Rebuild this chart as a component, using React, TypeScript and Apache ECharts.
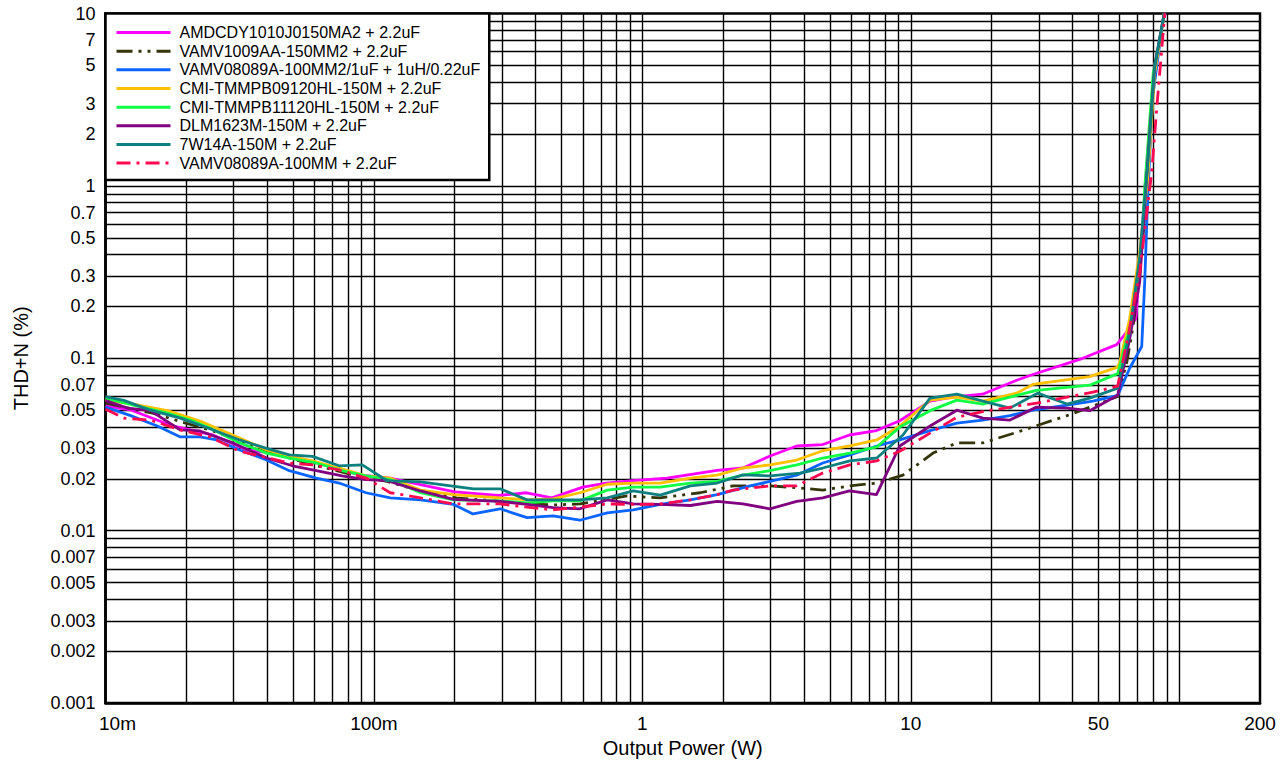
import React, { useEffect, useRef } from "react";
import * as echarts from "echarts";

const FONT = '"Liberation Sans", Arial, Helvetica, sans-serif';

const seriesNames = [
  "AMDCDY1010J0150MA2 + 2.2uF",
  "VAMV1009AA-150MM2 + 2.2uF",
  "VAMV08089A-100MM2/1uF + 1uH/0.22uF",
  "CMI-TMMPB09120HL-150M + 2.2uF",
  "CMI-TMMPB11120HL-150M + 2.2uF",
  "DLM1623M-150M + 2.2uF",
  "7W14A-150M + 2.2uF",
  "VAMV08089A-100MM + 2.2uF",
];
const seriesColors = ["#ff00ff", "#35350a", "#0a64ff", "#ffc000", "#11ff44", "#800080", "#0f8080", "#ff0a50"];

// [Output power (W), THD+N (%)]
const amdcdy = [[0.01,0.053],[0.0125,0.050],[0.0178,0.0405],[0.025,0.036],[0.0336,0.0294],[0.0472,0.0275],[0.06,0.025],[0.075,0.0225],[0.09,0.021],[0.115,0.0202],[0.149,0.0185],[0.2,0.0168],[0.29,0.016],[0.37,0.0166],[0.46,0.0155],[0.60,0.0179],[0.735,0.0189],[0.92,0.0195],[1.235,0.0202],[1.9,0.0224],[2.37,0.0231],[2.99,0.0271],[3.76,0.031],[4.7,0.0316],[5.91,0.0359],[7.45,0.0381],[9.1,0.0434],[11.8,0.0564],[14.3,0.0595],[18.5,0.0619],[24.8,0.0746],[28.5,0.0805],[43.7,0.1],[58.5,0.12],[64.5,0.145],[69,0.17],[73,0.6],[77.5,2.1],[81,5.0],[88,10]];
const vamv1009 = [[0.01,0.055],[0.0125,0.051],[0.015,0.048],[0.019,0.043],[0.025,0.038],[0.032,0.033],[0.04,0.029],[0.05,0.026],[0.06,0.024],[0.075,0.022],[0.09,0.0205],[0.112,0.0193],[0.149,0.017],[0.203,0.0155],[0.295,0.0148],[0.375,0.0143],[0.465,0.0141],[0.585,0.0143],[0.877,0.0159],[1.165,0.0155],[1.64,0.0166],[2.18,0.0182],[2.99,0.0182],[3.87,0.0177],[4.7,0.0172],[5.93,0.0182],[7.47,0.0189],[9.35,0.0210],[10.8,0.0247],[12.1,0.0282],[14.85,0.0323],[18.55,0.0323],[24.8,0.0372],[28.5,0.040],[38.2,0.0465],[46.4,0.052],[59,0.060],[63.8,0.095],[67.1,0.149],[70,0.24],[74,0.6],[77,1.8],[81,4.5],[88,10]];
const vamv08089mm2 = [[0.01,0.0521],[0.0124,0.0465],[0.0156,0.0405],[0.019,0.0350],[0.0225,0.0350],[0.026,0.0336],[0.0316,0.0294],[0.0398,0.0257],[0.0484,0.0223],[0.061,0.0202],[0.0742,0.0189],[0.0935,0.0166],[0.115,0.0155],[0.149,0.0151],[0.198,0.0142],[0.234,0.0125],[0.295,0.0134],[0.372,0.0119],[0.465,0.0122],[0.585,0.0115],[0.74,0.0127],[0.925,0.0132],[1.165,0.0142],[1.51,0.0151],[1.9,0.0162],[2.52,0.0182],[2.99,0.0193],[3.76,0.0210],[4.7,0.0247],[5.93,0.0275],[7.47,0.0310],[9.1,0.0336],[11.8,0.0381],[14.85,0.0421],[18.55,0.0438],[23.4,0.0465],[28.5,0.0500],[38.2,0.0535],[47.7,0.0564],[59,0.061],[65.4,0.0875],[72.5,0.117],[74.4,0.279],[76.3,0.84],[79.5,3.2],[87,9.2],[89,10]];
const cmi09120 = [[0.01,0.0572],[0.0127,0.0543],[0.017,0.0497],[0.0225,0.0432],[0.0316,0.0345],[0.0398,0.0294],[0.0484,0.0271],[0.059,0.0254],[0.0742,0.0231],[0.0935,0.0208],[0.115,0.0202],[0.149,0.0172],[0.198,0.0162],[0.295,0.0155],[0.372,0.0151],[0.465,0.0153],[0.585,0.0166],[0.74,0.0186],[0.925,0.0189],[1.165,0.0189],[1.51,0.0202],[1.9,0.0210],[2.37,0.0231],[2.99,0.0241],[3.76,0.0257],[4.7,0.0291],[5.93,0.0310],[7.47,0.0336],[9.1,0.0405],[11.8,0.0572],[14.85,0.0595],[18.55,0.0564],[24.8,0.0628],[28.5,0.0705],[46.4,0.0783],[59,0.0889],[60.1,0.0954],[65.4,0.17],[71.3,0.42],[76.3,1.1],[81,4.5],[88,10]];
const cmi11120 = [[0.01,0.0587],[0.0127,0.0535],[0.017,0.0481],[0.0207,0.0438],[0.0245,0.0394],[0.0316,0.0323],[0.0398,0.0282],[0.0484,0.0264],[0.061,0.0247],[0.0761,0.0223],[0.0935,0.0208],[0.115,0.0198],[0.149,0.0166],[0.198,0.0151],[0.295,0.0149],[0.372,0.0145],[0.465,0.0149],[0.585,0.0149],[0.74,0.0172],[0.925,0.0179],[1.165,0.0179],[1.51,0.0189],[1.9,0.0193],[2.37,0.0210],[2.99,0.0223],[3.76,0.0241],[4.7,0.0264],[5.93,0.0282],[7.47,0.0306],[9.1,0.0399],[11.8,0.0497],[14.85,0.0572],[18.55,0.0543],[24.8,0.0610],[29.4,0.0652],[46.4,0.0698],[59,0.0815],[60.1,0.0907],[65.4,0.15],[71.3,0.3],[74.5,1.0],[80,4.5],[88,10]];
const dlm1623 = [[0.01,0.0568],[0.0121,0.0514],[0.0147,0.0497],[0.019,0.0384],[0.0225,0.0379],[0.0298,0.0323],[0.0398,0.0264],[0.0497,0.0238],[0.061,0.0223],[0.0761,0.0208],[0.0935,0.0198],[0.112,0.0195],[0.149,0.0170],[0.198,0.0152],[0.295,0.0148],[0.372,0.0142],[0.465,0.0136],[0.585,0.0134],[0.74,0.0151],[0.925,0.0143],[1.165,0.0142],[1.51,0.0140],[1.9,0.0148],[2.37,0.0143],[2.99,0.0134],[3.76,0.0148],[4.7,0.0155],[5.91,0.0170],[7.45,0.0162],[9.1,0.0310],[11.8,0.0405],[14.85,0.0500],[18.55,0.0450],[23.4,0.0438],[29.4,0.0521],[38.2,0.0514],[46.4,0.0497],[59,0.061],[65.4,0.13],[71.3,0.28],[74.5,0.8],[77.6,2.0],[81,4.9],[88,10]];
const w7w14a = [[0.01,0.060],[0.0117,0.057],[0.0147,0.050],[0.019,0.045],[0.0245,0.039],[0.0316,0.0336],[0.0398,0.030],[0.0484,0.0275],[0.059,0.027],[0.0742,0.0238],[0.0905,0.0241],[0.112,0.0195],[0.149,0.0192],[0.235,0.0175],[0.295,0.0175],[0.372,0.0151],[0.465,0.0151],[0.585,0.0151],[0.74,0.0155],[0.925,0.0170],[1.165,0.0161],[1.51,0.0182],[1.9,0.0189],[2.37,0.0211],[2.99,0.0208],[3.87,0.0216],[4.7,0.0231],[5.93,0.0254],[7.47,0.0264],[9.35,0.0359],[11.8,0.0587],[14.85,0.0619],[18.55,0.0564],[23.4,0.0514],[29.7,0.0628],[38.2,0.0543],[46.4,0.0587],[59,0.0671],[65.4,0.143],[71.3,0.39],[76.3,1.31],[81,4.9],[88,10]];
const vamv08089mm = [[0.01,0.0507],[0.0117,0.0450],[0.0147,0.0438],[0.019,0.0384],[0.0245,0.0350],[0.0316,0.0289],[0.0484,0.0247],[0.059,0.0241],[0.0742,0.0225],[0.0935,0.0202],[0.115,0.0166],[0.149,0.0155],[0.198,0.0143],[0.295,0.0143],[0.372,0.0137],[0.465,0.0132],[0.585,0.0137],[0.74,0.0143],[0.925,0.0142],[1.165,0.0143],[1.51,0.0151],[1.9,0.0162],[2.18,0.0172],[2.99,0.0182],[3.76,0.0182],[4.7,0.0216],[5.93,0.0241],[7.47,0.0254],[9.1,0.0289],[11.8,0.0368],[14.85,0.0455],[18.55,0.0491],[24.8,0.0528],[29.4,0.0549],[38.2,0.0595],[47.7,0.0636],[59,0.0690],[65,0.143],[71.3,0.316],[79,1.2],[83,3.18],[88.3,9.8],[89,10]];

const seriesData = [amdcdy, vamv1009, vamv08089mm2, cmi09120, cmi11120, dlm1623, w7w14a, vamv08089mm];
const seriesDash: any[] = ["solid", [16, 6, 3, 6, 3, 6], "solid", "solid", "solid", "solid", "solid", [14, 6, 3, 6]];

const xGridLines = [0.02,0.03,0.04,0.05,0.06,0.07,0.08,0.09,0.1,0.2,0.3,0.4,0.5,0.6,0.7,0.8,0.9,1,2,3,4,5,6,7,8,9,10,20,30,40,50,60,70,80,90,100];
const yGridLines = [0.002,0.003,0.004,0.005,0.006,0.007,0.008,0.009,0.01,0.02,0.03,0.04,0.05,0.06,0.07,0.08,0.09,0.1,0.2,0.3,0.4,0.5,0.6,0.7,0.8,0.9,1,2,3,4,5,6,7,8,9];
const xTickValues = [0.01, 0.1, 1, 10, 50, 200];
const xTickLabels = ["10m", "100m", "1", "10", "50", "200"];
const yTickValues = [0.001,0.002,0.003,0.005,0.007,0.01,0.02,0.03,0.05,0.07,0.1,0.2,0.3,0.5,0.7,1,2,3,5,7,10];
const yTickLabels = ["0.001","0.002","0.003","0.005","0.007","0.01","0.02","0.03","0.05","0.07","0.1","0.2","0.3","0.5","0.7","1","2","3","5","7","10"];

function labelIndex(v: number, vals: number[]) {
  for (let i = 0; i < vals.length; i++) {
    if (Math.abs(Math.log10(v) - Math.log10(vals[i])) < 1e-4) return i;
  }
  return -1;
}

export default function App() {
  const ref = useRef<HTMLDivElement>(null);
  useEffect(() => {
    if (!ref.current) return;
    const chart = echarts.init(ref.current, undefined, { renderer: "svg" });
    const gridStyle = { color: "#000", width: 1.4 };
    const option: any = {
      animation: false,
      backgroundColor: "#fff",
      textStyle: { fontFamily: FONT },
      grid: { left: 105.5, right: 27, top: 13.5, bottom: 59, show: true, borderColor: "#000", borderWidth: 2.5, backgroundColor: "transparent" },
      xAxis: {
        type: "log", logBase: 10, min: 0.01, max: 200,
        name: "Output Power (W)", nameLocation: "middle", nameGap: 32,
        nameTextStyle: { fontFamily: FONT, fontSize: 20, color: "#000" },
        axisLine: { show: true, lineStyle: { color: "#000", width: 2.5 } },
        axisTick: { show: false, customValues: xGridLines },
        splitLine: { show: true, lineStyle: gridStyle },
        minorSplitLine: { show: false },
        axisLabel: {
          customValues: xTickValues, margin: 11, fontFamily: FONT, fontSize: 19, color: "#000",
          formatter: (v: number) => {
            const i = labelIndex(v, xTickValues);
            if (i < 0) return "";
            return i === 0 ? "{first|" + xTickLabels[i] + "}" : xTickLabels[i];
          },
          rich: { first: { fontFamily: FONT, fontSize: 19, color: "#000", padding: [0, 0, 0, 24] } },
        },
      },
      yAxis: {
        type: "log", logBase: 10, min: 0.001, max: 10,
        name: "THD+N (%)", nameLocation: "middle", nameGap: 75,
        nameTextStyle: { fontFamily: FONT, fontSize: 20, color: "#000" },
        axisLine: { show: true, lineStyle: { color: "#000", width: 2.5 } },
        axisTick: { show: false, customValues: yGridLines },
        splitLine: { show: true, lineStyle: gridStyle },
        axisLabel: {
          customValues: yTickValues, margin: 10, fontFamily: FONT, fontSize: 18, color: "#000",
          formatter: (v: number) => {
            const i = labelIndex(v, yTickValues);
            return i < 0 ? "" : yTickLabels[i];
          },
        },
      },
      legend: {
        orient: "vertical", left: 105.5, top: 13.5,
        data: seriesNames,
        itemWidth: 54, itemHeight: 14, itemGap: 2.66,
        padding: [11, 9, 9, 9.5],
        itemStyle: { opacity: 0 },
        lineStyle: { width: 3 },
        backgroundColor: "#fff", borderColor: "#000", borderWidth: 2.5, borderRadius: 0,
        textStyle: { fontFamily: FONT, fontSize: 16, color: "#000", lineHeight: 16, padding: [0, 0, 0, 4] },
      },
      series: seriesNames.map((name, i) => ({
        name,
        type: "line",
        data: seriesData[i],
        symbol: "none",
        showSymbol: false,
        color: seriesColors[i],
        z: 3 + i,
        lineStyle: { color: seriesColors[i], width: 2.8, type: seriesDash[i], cap: "butt", join: "round" },
      })),
    };
    chart.setOption(option);
    return () => chart.dispose();
  }, []);
  return <div ref={ref} style={{ width: 1287, height: 763, position: "absolute", left: 0, top: 0 }} />;
}
